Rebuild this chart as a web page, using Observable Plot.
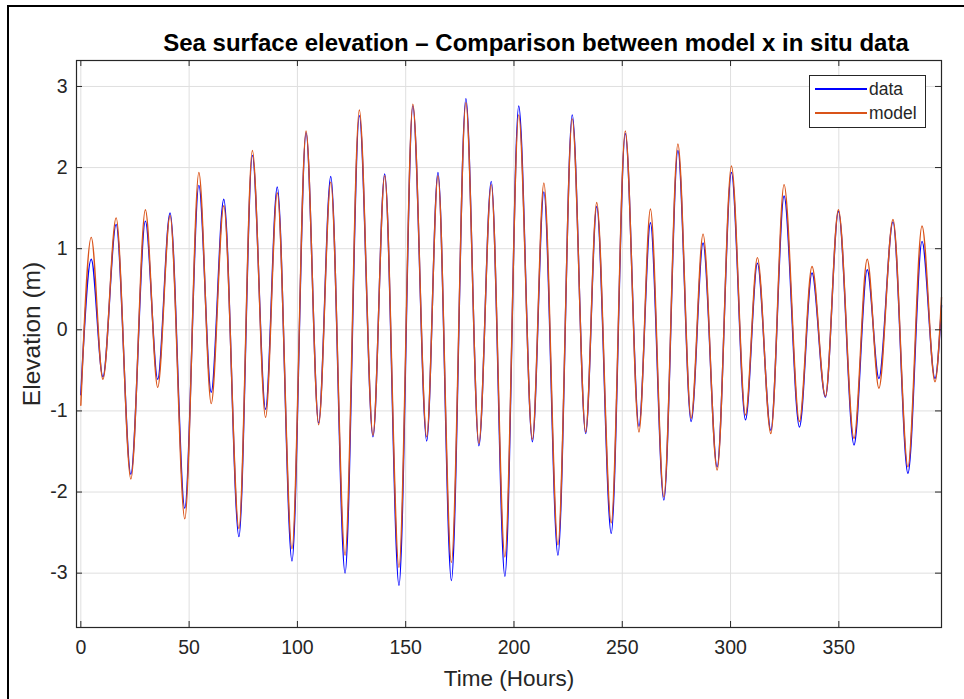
<!DOCTYPE html>
<html>
<head>
<meta charset="utf-8">
<script src="https://cdn.jsdelivr.net/npm/d3@7"></script>
<script src="https://cdn.jsdelivr.net/npm/@observablehq/plot@0.6"></script>
<style>
  html, body { margin: 0; padding: 0; background: #fff; }
  body { font-family: "Liberation Sans", Arial, sans-serif; }
  #wrap { position: relative; width: 964px; height: 699px; overflow: hidden; background: #fff; }
  #chart { position: absolute; left: 0; top: 0; }
  #border { position: absolute; left: 7px; top: 5px; width: 1000px; height: 760px; border: 2px solid #000; box-sizing: border-box; pointer-events: none; }
  #legend { position: absolute; left: 809px; top: 75px; width: 117px; height: 53px; border: 1px solid #262626; background: #fff; box-sizing: border-box; }
  .lg-line { position: absolute; left: 5px; width: 52px; height: 2px; }
  .lg-text { position: absolute; left: 59px; font-size: 17.5px; color: #262626; line-height: 18px; }
</style>
</head>
<body>
<div id="wrap">
  <div id="chart"></div>
  <div id="border"></div>
  <div id="legend"></div>
</div>
<script>
// ---- Data ----
const titleText = "Sea surface elevation – Comparison between model x in situ data";
const xLabel = "Time (Hours)";
const yLabel = "Elevation (m)";
const seriesNames = ["data", "model"];
const seriesColors = ["#0000ff", "#D95319"];

// times (hours) of turning points of the tide record
const hours = [
  0, 4.8, 10.2, 16.3, 23.1, 29.8, 35.5, 41.2, 48.0, 54.5,
  60.2, 66.0, 73.0, 79.2, 85.3, 90.7, 97.5, 104.0, 109.8, 115.4,
  122.0, 128.6, 134.9, 140.3, 146.9, 153.3, 159.7, 164.9, 171.1, 177.8,
  183.8, 189.5, 195.8, 202.2, 208.5, 213.8, 220.3, 226.9, 233.1, 238.2,
  244.9, 251.4, 257.7, 263.0, 269.2, 275.7, 281.8, 287.3, 293.8, 300.4,
  306.9, 312.4, 318.6, 324.7, 331.8, 337.6, 343.8, 349.8, 357.0, 363.1,
  368.5, 375.0, 381.9, 388.4, 394.4, 397.4
];
// in situ data (m)
const dataValues = [
  -0.80, 0.87, -0.58, 1.30, -1.78, 1.34, -0.61, 1.44, -2.20, 1.78,
  -0.77, 1.61, -2.55, 2.15, -0.98, 1.76, -2.85, 2.43, -1.15, 1.89,
  -3.00, 2.64, -1.32, 1.92, -3.15, 2.76, -1.37, 1.94, -3.09, 2.85,
  -1.43, 1.83, -3.04, 2.76, -1.38, 1.70, -2.78, 2.65, -1.28, 1.52,
  -2.51, 2.42, -1.19, 1.32, -2.10, 2.21, -1.13, 1.07, -1.69, 1.94,
  -1.11, 0.82, -1.24, 1.65, -1.20, 0.70, -0.83, 1.46, -1.42, 0.74,
  -0.60, 1.33, -1.77, 1.09, -0.60, 0.30
];
// model (m)
const modelValues = [
  -0.93, 1.14, -0.61, 1.38, -1.84, 1.48, -0.71, 1.41, -2.33, 1.94,
  -0.91, 1.53, -2.45, 2.21, -1.08, 1.69, -2.70, 2.45, -1.17, 1.82,
  -2.78, 2.71, -1.30, 1.90, -2.93, 2.78, -1.32, 1.90, -2.87, 2.80,
  -1.40, 1.79, -2.80, 2.65, -1.35, 1.81, -2.65, 2.60, -1.26, 1.57,
  -2.38, 2.45, -1.26, 1.49, -2.06, 2.29, -1.09, 1.18, -1.73, 2.02,
  -1.05, 0.89, -1.28, 1.79, -1.13, 0.78, -0.82, 1.48, -1.34, 0.87,
  -0.72, 1.36, -1.69, 1.28, -0.64, 0.40
];
const xTicks = [0, 50, 100, 150, 200, 250, 300, 350];
const yTicks = [-3, -2, -1, 0, 1, 2, 3];
const xDomain = [-2, 397.4];
const yDomain = [-3.67, 3.32];

// ---- Build ----
const rows = hours.map((h, i) => ({h, data: dataValues[i], model: modelValues[i]}));
const W = 964, H = 699, mL = 76, mR = 23, mT = 60, mB = 72;
const fw = W - mL - mR, fh = H - mT - mB;
const axisColor = "#262626";
const tick = 6;
const fmt = d => String(d);

const chart = Plot.plot({
  width: W, height: H,
  marginLeft: mL, marginRight: mR, marginTop: mT, marginBottom: mB,
  style: {fontFamily: "'Liberation Sans', Arial, sans-serif", color: axisColor, background: "transparent", overflow: "visible"},
  x: {domain: xDomain, ticks: xTicks},
  y: {domain: yDomain, ticks: yTicks},
  marks: [
    Plot.gridX(xTicks, {stroke: "#dfdfdf", strokeOpacity: 1, strokeWidth: 1}),
    Plot.gridY(yTicks, {stroke: "#dfdfdf", strokeOpacity: 1, strokeWidth: 1}),
    Plot.line(rows, {x: "h", y: "data", stroke: seriesColors[0], strokeWidth: 1.4, curve: "monotone-x"}),
    Plot.line(rows, {x: "h", y: "model", stroke: seriesColors[1], strokeWidth: 1.4, curve: "monotone-x"}),
    // inward ticks on all four sides
    Plot.ruleY(yTicks, {y: d => d, insetRight: fw - tick, stroke: axisColor}),
    Plot.ruleY(yTicks, {y: d => d, insetLeft: fw - tick, stroke: axisColor}),
    Plot.ruleX(xTicks, {x: d => d, insetTop: fh - tick, stroke: axisColor}),
    Plot.ruleX(xTicks, {x: d => d, insetBottom: fh - tick, stroke: axisColor}),
    Plot.frame({stroke: axisColor, strokeWidth: 1.2}),
    Plot.axisX(xTicks, {tickSize: 0, tickPadding: 13, fontSize: 19.5, label: null, tickFormat: fmt}),
    Plot.axisY(yTicks, {tickSize: 0, tickPadding: 9, fontSize: 19.5, label: null, tickFormat: fmt}),
    Plot.text([xLabel], {frameAnchor: "bottom", dy: 58, fontSize: 22.5, fill: axisColor}),
    Plot.text([yLabel], {frameAnchor: "left", textAnchor: "middle", dx: -44, dy: -10, rotate: -90, fontSize: 24.5, fill: axisColor}),
    Plot.text([titleText], {frameAnchor: "top", dx: 27, dy: -27, fontSize: 24, fontWeight: "bold", fill: "#000"})
  ]
});
document.getElementById("chart").appendChild(chart);

// legend
const lg = document.getElementById("legend");
seriesNames.forEach((name, i) => {
  const top = 13 + i * 23.5;
  const ln = document.createElement("div");
  ln.className = "lg-line";
  ln.style.top = (top - 1) + "px";
  ln.style.background = seriesColors[i];
  lg.appendChild(ln);
  const tx = document.createElement("div");
  tx.className = "lg-text";
  tx.style.top = (top - 9) + "px";
  tx.textContent = name;
  lg.appendChild(tx);
});
</script>
</body>
</html>
